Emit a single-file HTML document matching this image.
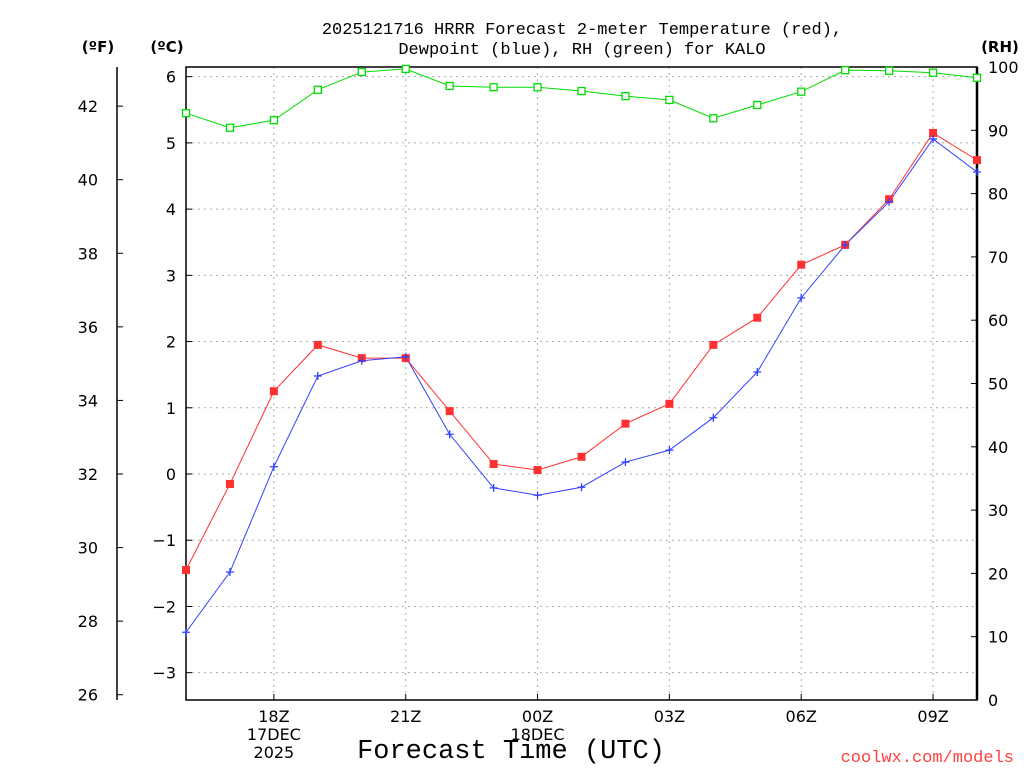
<!DOCTYPE html>
<html><head><meta charset="utf-8"><style>
body{margin:0;background:#fff;}
svg{display:block;font-family:"DejaVu Sans","Liberation Sans",sans-serif;}
.mono{font-family:"Liberation Mono","DejaVu Sans Mono",monospace;}
</style></head><body>
<svg id="chart" width="1024" height="768">
<g id="grid"></g>
<g id="axes"></g>
<g id="series"></g>
<text class="mono" x="582" y="34" text-anchor="middle" font-size="17">2025121716 HRRR Forecast 2-meter Temperature (red),</text>
<text class="mono" x="582" y="54" text-anchor="middle" font-size="17">Dewpoint (blue), RH (green) for KALO</text>
<text x="98" y="52" text-anchor="middle" font-size="15" font-weight="bold">(ºF)</text>
<text x="167" y="52" text-anchor="middle" font-size="15" font-weight="bold">(ºC)</text>
<text x="1000" y="52" text-anchor="middle" font-size="15" font-weight="bold">(RH)</text>
<text class="mono" x="511" y="758" text-anchor="middle" font-size="27">Forecast Time (UTC)</text>
<text class="mono" x="1014" y="762" text-anchor="end" font-size="17" fill="#ff4040">coolwx.com/models</text>
</svg>
<script>
const hours=[16,17,18,19,20,21,22,23,24,25,26,27,28,29,30,31,32,33,34];
const tempC=[-1.45,-0.15,1.25,1.95,1.75,1.75,0.95,0.15,0.06,0.26,0.76,1.06,1.95,2.36,3.16,3.46,4.15,5.15,4.74];
const dewC=[-2.39,-1.48,0.11,1.48,1.71,1.77,0.60,-0.21,-0.32,-0.20,0.18,0.36,0.85,1.54,2.66,3.46,4.11,5.06,4.56];
const rh=[92.7,90.4,91.6,96.4,99.2,99.7,97.0,96.8,96.8,96.2,95.4,94.8,91.9,94.0,96.1,99.5,99.4,99.1,98.3];
const cTicks=[-3,-2,-1,0,1,2,3,4,5,6];
const fTicks=[26,28,30,32,34,36,38,40,42];
const rhTicks=[0,10,20,30,40,50,60,70,80,90,100];
const xTicks=[18,21,24,27,30,33];
const xLabels=["18Z","21Z","00Z","03Z","06Z","09Z"];
const L=186,R=977,T=67,B=700;
const NS="http://www.w3.org/2000/svg";
const xs=h=>L+(h-16)*(R-L)/18;
const yc=c=>474-c*66.22;
const yf=f=>yc((f-32)/1.8);
const yr=r=>B-r*(B-T)/100;
function mk(p,tag,a){const e=document.createElementNS(NS,tag);for(const k in a)e.setAttribute(k,a[k]);p.appendChild(e);return e;}
const grid=document.getElementById('grid'),axes=document.getElementById('axes'),ser=document.getElementById('series');
for(const c of cTicks){const g=mk(grid,'line',{x1:L,x2:R,y1:yc(c),y2:yc(c),stroke:'#aaa','stroke-dasharray':'2,4'});


const t=mk(axes,'text',{x:176,y:yc(c)+6,'text-anchor':'end','font-size':16});t.textContent=c<0?'\u2212'+(-c):c;


mk(axes,'line',{x1:L,x2:L+6,y1:yc(c),y2:yc(c),stroke:'#000'});}
for(const h of xTicks){const g=mk(grid,'line',{x1:xs(h),x2:xs(h),y1:T,y2:B,stroke:'#aaa','stroke-dasharray':'2,4'});

}
xTicks.forEach((h,i)=>{const t=mk(axes,'text',{x:xs(h),y:722,'text-anchor':'middle','font-size':16});t.textContent=xLabels[i];


mk(axes,'line',{x1:xs(h),x2:xs(h),y1:B,y2:B-6,stroke:'#000'});});
[[18,'17DEC',740],[18,'2025',758],[24,'18DEC',740]].forEach(d=>{const t=mk(axes,'text',{x:xs(d[0]),y:d[2],'text-anchor':'middle','font-size':16});t.textContent=d[1];

});
for(const f of fTicks){mk(axes,'line',{x1:117,x2:123,y1:yf(f),y2:yf(f),stroke:'#000'});
const t=mk(axes,'text',{x:98,y:yf(f)+6,'text-anchor':'end','font-size':16});t.textContent=f;

}
mk(axes,'line',{x1:117,x2:117,y1:T,y2:B,stroke:'#000','stroke-width':1.5});
for(const r of rhTicks){mk(axes,'line',{x1:R,x2:R-6,y1:yr(r),y2:yr(r),stroke:'#000'});
const t=mk(axes,'text',{x:988,y:yr(r)+6,'font-size':16});t.textContent=r;

}
mk(axes,'rect',{x:L,y:T,width:R-L,height:B-T,fill:'none',stroke:'#000','stroke-width':1.5});
mk(axes,'line',{x1:R,x2:R,y1:T,y2:B,stroke:'#000','stroke-width':2.5});
function line(vals,fy,col,name){const p=mk(ser,'polyline',{points:vals.map((v,i)=>xs(hours[i])+','+fy(v)).join(' '),fill:'none',stroke:col,'stroke-width':1});

}
line(rh,yr,'#00dd00','rh-line');line(tempC,yc,'#ff3030','temperature-line');line(dewC,yc,'#3040ff','dewpoint-line');
rh.forEach((v,i)=>{const m=mk(ser,'rect',{x:xs(hours[i])-3.5,y:yr(v)-3.5,width:7,height:7,fill:'#fff',stroke:'#00dd00','stroke-width':1.3});

});
tempC.forEach((v,i)=>{const m=mk(ser,'rect',{x:xs(hours[i])-4,y:yc(v)-4,width:8,height:8,fill:'#ff3030'});

});
dewC.forEach((v,i)=>{const x=xs(hours[i]),y=yc(v);const m=mk(ser,'path',{d:`M${x-4},${y}H${x+4}M${x},${y-4}V${y+4}`,stroke:'#3040ff','stroke-width':1.3});

});
</script>
</body></html>
